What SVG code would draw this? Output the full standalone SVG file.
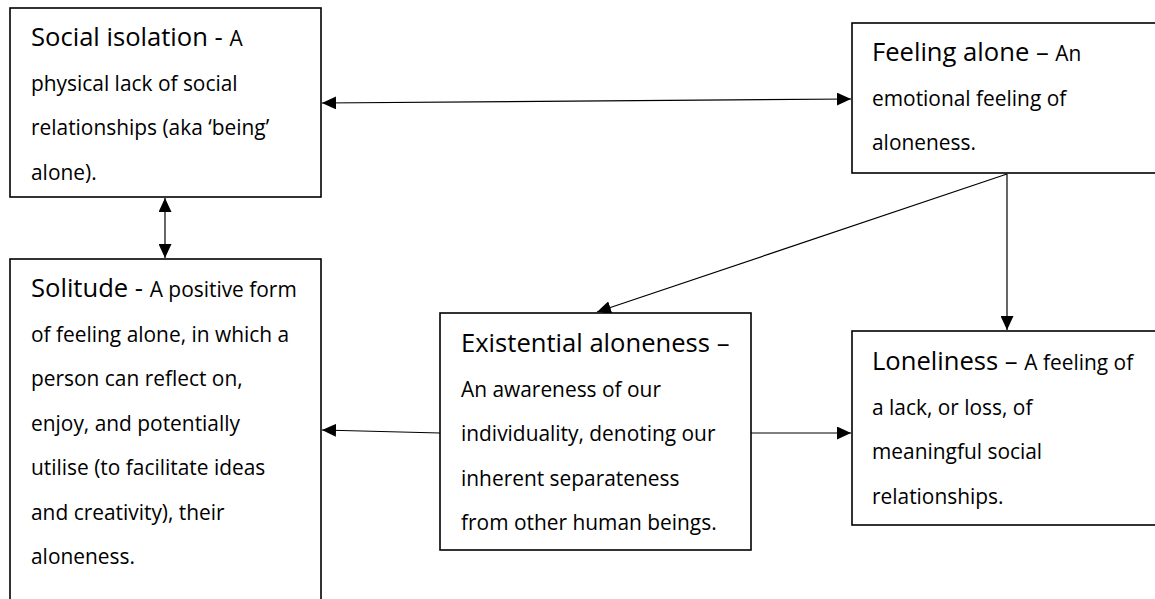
<svg xmlns="http://www.w3.org/2000/svg" width="1155" height="599" viewBox="0 0 1155 599">
<style>
.box{fill:#fff;stroke:#000;stroke-width:1.6}
.t{font-family:"Open Sans","Noto Sans","Liberation Sans",sans-serif;fill:#000;font-size:20.9px}
.h{font-size:25.6px}
.c{stroke:#000;stroke-width:1.2;fill:none}
</style>
<defs>
<marker id="ah" viewBox="0 0 14 13" refX="14" refY="6.5" markerWidth="14" markerHeight="13" markerUnits="userSpaceOnUse" orient="auto-start-reverse">
<path d="M0,0 L14,6.5 L0,13 z" fill="#000"/>
</marker>
</defs>
<rect width="1155" height="599" fill="#fff"/>
<g id="connectors">
<line class="c" x1="322" y1="103" x2="851" y2="99" marker-start="url(#ah)" marker-end="url(#ah)"/>
<line class="c" x1="165" y1="198" x2="165" y2="258" marker-start="url(#ah)" marker-end="url(#ah)"/>
<line class="c" x1="1007" y1="174" x2="597" y2="312" marker-end="url(#ah)"/>
<line class="c" x1="1007" y1="174" x2="1007" y2="330" marker-end="url(#ah)"/>
<line class="c" x1="440" y1="433" x2="322" y2="430" marker-end="url(#ah)"/>
<line class="c" x1="751" y1="433" x2="851" y2="433" marker-end="url(#ah)"/>
</g>
<g id="social-isolation">
<rect class="box" x="10" y="8" width="311" height="189"/>
<text class="t" x="31" y="46"><tspan class="h">Social isolation - </tspan>A</text>
<text class="t" x="31" y="90.5">physical lack of social</text>
<text class="t" x="31" y="135">relationships (aka ‘being’</text>
<text class="t" x="31" y="179.5">alone).</text>
</g>
<g id="solitude">
<rect class="box" x="10" y="259" width="311" height="360"/>
<text class="t" x="31" y="297"><tspan class="h">Solitude - </tspan>A positive form</text>
<text class="t" x="31" y="341.5">of feeling alone, in which a</text>
<text class="t" x="31" y="386">person can reflect on,</text>
<text class="t" x="31" y="430.5">enjoy, and potentially</text>
<text class="t" x="31" y="475">utilise (to facilitate ideas</text>
<text class="t" x="31" y="519.5">and creativity), their</text>
<text class="t" x="31" y="564">aloneness.</text>
</g>
<g id="feeling-alone">
<rect class="box" x="852" y="23" width="320" height="150"/>
<text class="t" x="872" y="61"><tspan class="h">Feeling alone – </tspan>An</text>
<text class="t" x="872" y="105.5">emotional feeling of</text>
<text class="t" x="872" y="150">aloneness.</text>
</g>
<g id="existential-aloneness">
<rect class="box" x="440" y="313" width="311" height="237"/>
<text class="t h" x="461" y="352">Existential aloneness –</text>
<text class="t" x="461" y="396.5">An awareness of our</text>
<text class="t" x="461" y="441">individuality, denoting our</text>
<text class="t" x="461" y="485.5">inherent separateness</text>
<text class="t" x="461" y="530">from other human beings.</text>
</g>
<g id="loneliness">
<rect class="box" x="852" y="331" width="320" height="194"/>
<text class="t" x="872" y="370"><tspan class="h">Loneliness – </tspan>A feeling of</text>
<text class="t" x="872" y="414.5">a lack, or loss, of</text>
<text class="t" x="872" y="459">meaningful social</text>
<text class="t" x="872" y="503.5">relationships.</text>
</g>
</svg>
